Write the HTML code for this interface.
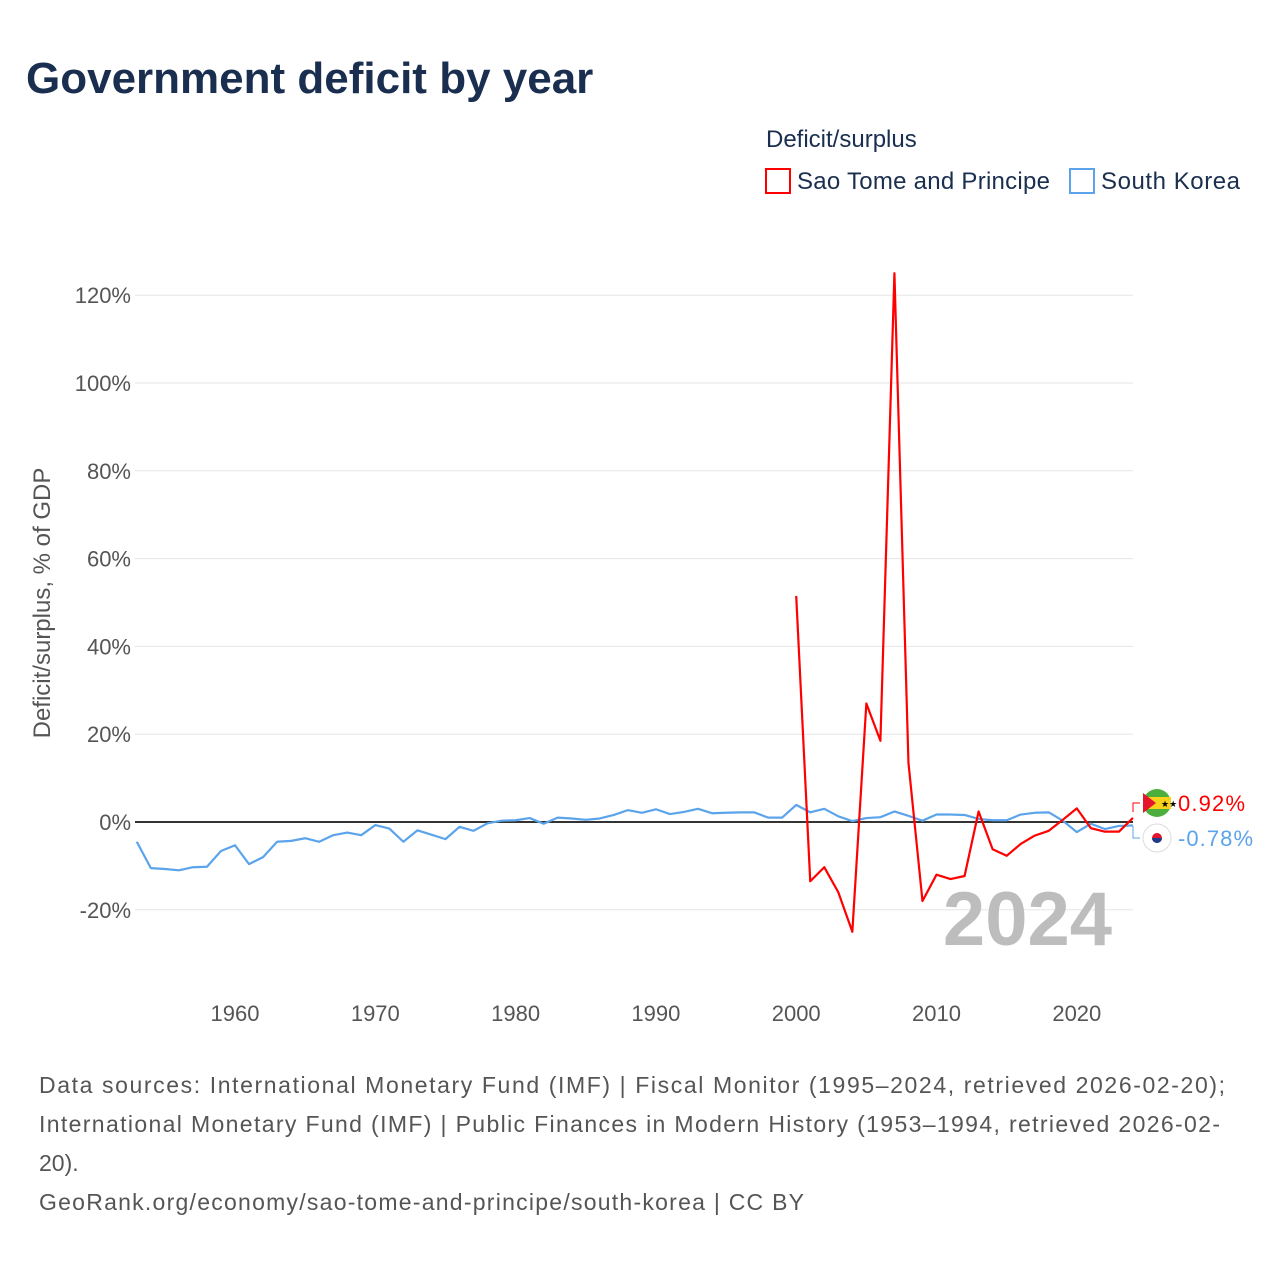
<!DOCTYPE html>
<html><head><meta charset="utf-8"><style>
body{margin:0;background:#fff;font-family:"Liberation Sans",sans-serif;}
</style></head><body>
<svg width="1280" height="1280" xmlns="http://www.w3.org/2000/svg" style="font-family:'Liberation Sans',sans-serif">
<text x="26" y="93" font-size="44" font-weight="bold" fill="#1a2e4f">Government deficit by year</text>
<text x="766" y="147" font-size="24" fill="#1a2e4f">Deficit/surplus</text>
<g><rect x="766" y="169" width="24" height="24" fill="none" stroke="#f00" stroke-width="2"/><text x="797" y="189" font-size="24" fill="#1a2e4f" textLength="253">Sao Tome and Principe</text></g>
<g><rect x="1070" y="169" width="24" height="24" fill="none" stroke="#5ba4ec" stroke-width="2"/><text x="1101" y="189" font-size="24" fill="#1a2e4f" textLength="139">South Korea</text></g>
<text transform="translate(50,603) rotate(-90)" text-anchor="middle" font-size="24" fill="#555">Deficit/surplus, % of GDP</text>
<g id="grid"></g><g id="xt"></g><g id="lines"></g>
<text x="1112" y="945" text-anchor="end" font-size="76" font-weight="bold" fill="#bdbdbd">2024</text>
<g><circle cx="1157" cy="803" r="14" fill="#4caf3d"/><rect x="1143" y="797" width="28" height="12" fill="#f7d11a"/><path d="M1143,793 L1156,803 L1143,813 Z" fill="#e3142b"/><text x="1161" y="807" font-size="9" fill="#000">★★</text></g>
<g><circle cx="1157" cy="838" r="14" fill="#fff" stroke="#ddd"/><circle cx="1157" cy="838" r="5" fill="#e3142b"/><path d="M1152,838 a5,5 0 0 0 10,0 z" fill="#1e3a8a"/></g>
<path d="M1133,812 V803 H1140" fill="none" stroke="#f00" stroke-width="1"/>
<path d="M1133,826 V838 H1140" fill="none" stroke="#5ba4ec" stroke-width="1"/>
<text x="1178" y="811" font-size="22" fill="#f00" textLength="67">0.92%</text>
<text x="1178" y="846" font-size="22" fill="#5ba4ec" textLength="75">-0.78%</text>
<g font-size="23" fill="#555">
<text x="39" y="1093" textLength="1186">Data sources: International Monetary Fund (IMF) | Fiscal Monitor (1995–2024, retrieved 2026-02-20);</text>
<text x="39" y="1132" textLength="1181">International Monetary Fund (IMF) | Public Finances in Modern History (1953–1994, retrieved 2026-02-</text>
<text x="39" y="1171">20).</text>
<text x="39" y="1210" textLength="765">GeoRank.org/economy/sao-tome-and-principe/south-korea | CC BY</text>
</g>
</svg>
<script>
const yTicks=[-20,0,20,40,60,80,100,120];
const xTicks=[1960,1970,1980,1990,2000,2010,2020];
const krYears=[];for(let y=1953;y<=2024;y++)krYears.push(y);
const krValues=[-4.5,-10.5,-10.7,-11,-10.3,-10.2,-6.6,-5.3,-9.6,-8,-4.5,-4.3,-3.7,-4.5,-3,-2.4,-3,-0.7,-1.5,-4.5,-1.9,-2.9,-3.9,-1.1,-2,-0.3,0.3,0.4,0.9,-0.4,1,0.8,0.5,0.8,1.6,2.7,2.1,2.9,1.8,2.3,3,2,2.1,2.2,2.2,1,1,3.9,2.2,3,1.3,0.2,0.9,1.1,2.4,1.4,0.3,1.7,1.7,1.6,0.7,0.4,0.4,1.7,2.1,2.2,0.3,-2.3,-0.4,-1.6,-0.9,-0.78];
const stpYears=[];for(let y=2000;y<=2024;y++)stpYears.push(y);
const stpValues=[51.5,-13.5,-10.3,-16,-25,27,18.5,125,13.5,-18,-12,-13,-12.3,2.4,-6.2,-7.7,-5,-3.1,-2,0.5,3.1,-1.4,-2.2,-2.2,0.92];
const X=y=>136.8+(y-1953)*14.03, Y=v=>822-v*4.39;
const NS='http://www.w3.org/2000/svg';
function mk(t,a,p){const e=document.createElementNS(NS,t);for(const k in a)e.setAttribute(k,a[k]);document.getElementById(p).appendChild(e);return e;}
yTicks.forEach(v=>{
 const l=mk('line',{x1:135,x2:1133,y1:Y(v),y2:Y(v),stroke:v===0?'#333':'#e6e6e6','stroke-width':v===0?2:1},'grid');
 
 
 const t=mk('text',{x:131,y:Y(v)+8,'text-anchor':'end','font-size':22,fill:'#555'},'grid');t.textContent=v+'%';
 
 
});
xTicks.forEach(v=>{
 const t=mk('text',{x:X(v),y:1021,'text-anchor':'middle','font-size':22,fill:'#555'},'xt');t.textContent=v;
 
 
});
function line(xs,vs,c,n){
 const p=mk('polyline',{points:xs.map((y,i)=>X(y)+','+Y(vs[i])).join(' '),fill:'none',stroke:c,'stroke-width':2.2,'stroke-linejoin':'round'},'lines');
 
 
}
line(krYears,krValues,'#5ba4ec','south-korea-line');
line(stpYears,stpValues,'#ff0000','sao-tome-line');
</script>
</body></html>
